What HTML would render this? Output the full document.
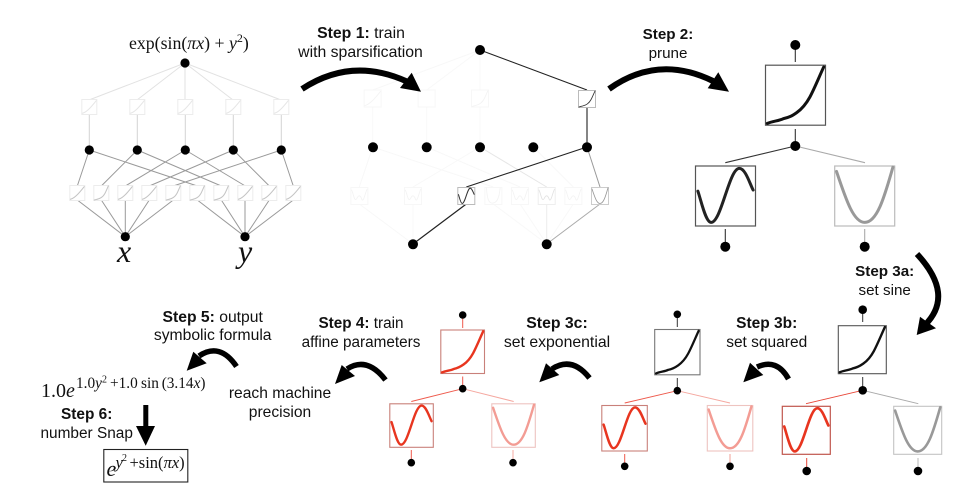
<!DOCTYPE html>
<html>
<head>
<meta charset="utf-8">
<style>
html,body{margin:0;padding:0;background:#fff;width:973px;height:487px;overflow:hidden}
svg{display:block}
.s{font-family:"Liberation Sans",sans-serif;font-size:15.4px;fill:#111;text-anchor:middle}
.m{font-family:"Liberation Serif",serif;fill:#111}
.i{font-style:italic}
.c{fill:none;stroke-linecap:round;stroke-linejoin:round}
</style>
</head>
<body>
<svg width="973" height="487" viewBox="0 0 973 487" xmlns="http://www.w3.org/2000/svg">
<defs>
<path id="ex" d="M3 97C12 93 22 93 30 89C40 87 45 84 52 79C62 72 68 64 74 53C82 38 90 18 97 3"/>
<path id="si" d="M4 42C10 60 17 94 26 94C43 94 56 4 73 4C83 4 90 28 96 40"/>
<path id="pa" d="M3 9C20 60 32 94 50 94C70 94 82 55 97 2"/>
<path id="li" d="M4 92C30 85 55 60 96 8"/>
<path id="wa" d="M4 15C15 30 20 90 35 65C45 45 55 40 65 70C75 90 85 30 96 10"/>
<path id="ba" d="M10 5C14 60 20 92 45 92C70 92 85 60 90 5"/>
</defs>

<!-- Panel 1 -->
<g fill="none" stroke="#e2e2e2" stroke-width="1">
<path d="M185 63L89 100M185 63L137 100M185 63V100M185 63L233 100M185 63L281 100"/>
</g>
<g fill="none" stroke="#d4d4d4" stroke-width="1">
<path d="M89.300 114V150M137.300 114V150M185.300 114V150M233.300 114V150M281.300 114V150"/>
</g>
<g fill="none" stroke="#9a9a9a" stroke-width="1">
<path d="M89.300 150L77.300 186M89.300 150L197.300 186M137.300 150L101.300 186M137.300 150L221.300 186M185.300 150L125.300 186M185.300 150L245.300 186M233.300 150L149.300 186M233.300 150L269.300 186M281.300 150L173.300 186M281.300 150L293.300 186"/>
<path d="M125.300 236.700L77.300 200M125.300 236.700L101.300 200M125.300 236.700V200M125.300 236.700L149.300 200M125.300 236.700L173.300 200"/>
<path d="M245 236.700L197.300 200M245 236.700L221.300 200M245 236.700V200M245 236.700L269.300 200M245 236.700L293.300 200"/>
</g>
<g fill="#fff" stroke="#ececec" stroke-width="1">
<rect x="81.800" y="99.500" width="15" height="15"/><rect x="129.800" y="99.500" width="15" height="15"/><rect x="177.800" y="99.500" width="15" height="15"/><rect x="225.800" y="99.500" width="15" height="15"/><rect x="273.800" y="99.500" width="15" height="15"/>
<rect x="69.800" y="185.500" width="15" height="15"/><rect x="93.800" y="185.500" width="15" height="15"/><rect x="117.800" y="185.500" width="15" height="15"/><rect x="141.800" y="185.500" width="15" height="15"/><rect x="165.800" y="185.500" width="15" height="15"/><rect x="189.800" y="185.500" width="15" height="15"/><rect x="213.800" y="185.500" width="15" height="15"/><rect x="237.800" y="185.500" width="15" height="15"/><rect x="261.800" y="185.500" width="15" height="15"/><rect x="285.800" y="185.500" width="15" height="15"/>
</g>
<g class="c" stroke="#e6e6e6" stroke-width="7">
<use href="#li" transform="translate(81.800 99.500) scale(.15)"/><use href="#li" transform="translate(129.800 99.500) scale(.15)"/><use href="#li" transform="translate(177.800 99.500) scale(.15)"/><use href="#li" transform="translate(225.800 99.500) scale(.15)"/><use href="#li" transform="translate(273.800 99.500) scale(.15)"/>
</g>
<g class="c" stroke="#c4c4c4" stroke-width="7">
<use href="#li" transform="translate(69.800 185.500) scale(.15)"/><use href="#ex" transform="translate(93.800 185.500) scale(.15)"/><use href="#li" transform="translate(117.800 185.500) scale(.15)"/><use href="#li" transform="translate(141.800 185.500) scale(.15)"/><use href="#ex" transform="translate(165.800 185.500) scale(.15)"/><use href="#ex" transform="translate(189.800 185.500) scale(.15)"/><use href="#ex" transform="translate(213.800 185.500) scale(.15)"/><use href="#li" transform="translate(237.800 185.500) scale(.15)"/><use href="#li" transform="translate(261.800 185.500) scale(.15)"/><use href="#li" transform="translate(285.800 185.500) scale(.15)"/>
</g>
<g fill="#000">
<circle cx="185" cy="63" r="4.600"/>
<circle cx="89.300" cy="150" r="4.600"/><circle cx="137.300" cy="150" r="4.600"/><circle cx="185.300" cy="150" r="4.600"/><circle cx="233.300" cy="150" r="4.600"/><circle cx="281.300" cy="150" r="4.600"/>
<circle cx="125.300" cy="236.700" r="4.600"/><circle cx="245" cy="236.700" r="4.600"/>
</g>
<text class="m" x="129" y="49" font-size="17.800">exp(sin(<tspan class="i">πx</tspan>) + <tspan class="i">y</tspan><tspan dy="-7" font-size="12">2</tspan><tspan dy="7">)</tspan></text>
<text class="m i" x="117" y="262" font-size="32">x</text>
<text class="m i" x="238" y="262" font-size="32">y</text>

<!-- Panel 2 -->
<g fill="none" stroke="#f8f8f8" stroke-width="1">
<path d="M480 50L372.700 90M480 50L426.700 90M480 50V90M372.700 107V147M426.700 107V147M480 107V147"/>
<path d="M372.700 147L359.300 187M372.700 147L493.300 187M426.700 147L520 187M480 147L413 187M533.300 147L573.300 187"/>
<path d="M413 244L359.300 204M413 244V204M546.700 244L493.300 204M546.700 244L520 204M546.700 244L573.300 204"/>
</g>
<path d="M480 147L546.700 187" fill="none" stroke="#e6e6e6"/>
<path d="M546.700 244V204" fill="none" stroke="#ececec"/>
<path d="M480 50L587 90" fill="none" stroke="#222" stroke-width="1.100"/>
<path d="M587 107V147" fill="none" stroke="#333" stroke-width="1.200"/>
<path d="M587 147L466.300 187" fill="none" stroke="#222" stroke-width="1.100"/>
<path d="M587 147L600 187" fill="none" stroke="#999"/>
<path d="M413 244L466.300 204" fill="none" stroke="#222" stroke-width="1.200"/>
<path d="M546.700 244L600 204" fill="none" stroke="#aaa"/>
<g fill="#fff" stroke="#f7f7f7">
<rect x="350.800" y="187.500" width="17" height="17"/><rect x="404.500" y="187.500" width="17" height="17"/><rect x="484.800" y="187.500" width="17" height="17"/><rect x="511.500" y="187.500" width="17" height="17"/><rect x="538.200" y="187.500" width="17" height="17" stroke="#eeeeee"/><rect x="564.800" y="187.500" width="17" height="17"/>
<rect x="364.200" y="90" width="17" height="17"/><rect x="418.200" y="90" width="17" height="17"/><rect x="471.500" y="90" width="17" height="17"/>
</g>
<g class="c" stroke="#f3f3f3" stroke-width="5">
<use href="#wa" transform="translate(350.800 187.500) scale(.17)"/><use href="#wa" transform="translate(404.500 187.500) scale(.17)"/><use href="#ba" transform="translate(484.800 187.500) scale(.17)"/><use href="#wa" transform="translate(511.500 187.500) scale(.17)"/><use href="#wa" transform="translate(538.200 187.500) scale(.17)" stroke="#e2e2e2"/><use href="#wa" transform="translate(564.800 187.500) scale(.17)"/><use href="#ex" transform="translate(471.500 90) scale(.17)"/><use href="#li" transform="translate(364.200 90) scale(.17)"/>
</g>
<rect x="578.500" y="90.500" width="17" height="17" fill="#fff" stroke="#bbb"/>
<use href="#ex" class="c" stroke="#333" stroke-width="5" transform="translate(578.500 90.500) scale(.17)"/>
<rect x="457.800" y="187.500" width="17" height="17" fill="#fff" stroke="#bbb"/>
<use href="#si" class="c" stroke="#333" stroke-width="6" transform="translate(457.800 187.500) scale(.17)"/>
<rect x="591.500" y="187.500" width="17" height="17" fill="#fff" stroke="#ccc"/>
<use href="#pa" class="c" stroke="#999" stroke-width="5" transform="translate(591.500 187.500) scale(.17)"/>
<g fill="#000">
<circle cx="480" cy="50" r="5"/>
<circle cx="373" cy="147.300" r="5"/><circle cx="426.700" cy="147.300" r="5"/><circle cx="480" cy="147.300" r="5"/><circle cx="533.300" cy="147.300" r="5"/><circle cx="587" cy="147.300" r="5"/>
<circle cx="413" cy="244.300" r="5"/><circle cx="546.700" cy="244.300" r="5"/>
</g>

<!-- Panel 3 -->
<path d="M795.300 45V62M795.300 129V146M795.300 146L725.300 162.700M725.300 229V246" fill="none" stroke="#333" stroke-width="1.100"/>
<path d="M795.300 146L865 162.700M864.700 229V246" fill="none" stroke="#aaa" stroke-width="1.100"/>
<rect x="765.500" y="65.200" width="60" height="60" fill="#fff" stroke="#555" stroke-width="1.200"/>
<rect x="695.500" y="166" width="60" height="60" fill="#fff" stroke="#555" stroke-width="1.200"/>
<rect x="834.700" y="166" width="60" height="60" fill="#fff" stroke="#bbb" stroke-width="1.200"/>
<use href="#ex" class="c" stroke="#111" stroke-width="5" transform="translate(765.500 65.200) scale(.6)"/>
<use href="#si" class="c" stroke="#222" stroke-width="5" transform="translate(695.500 166) scale(.6)"/>
<use href="#pa" class="c" stroke="#999" stroke-width="5" transform="translate(834.700 166) scale(.6)"/>
<circle cx="795.300" cy="45" r="5"/><circle cx="795.300" cy="146" r="5"/><circle cx="725.300" cy="246.700" r="5"/><circle cx="864.700" cy="246.700" r="5"/>

<!-- Panel 3a -->
<path d="M862.700 309.700V322M862.700 377V390.300" fill="none" stroke="#333"/>
<path d="M862.700 390.300L806 403.700M806.700 458V471" fill="none" stroke="#e8483a"/>
<path d="M862.700 390.300L918.300 403.700" fill="none" stroke="#aaa"/>
<path d="M918 458V471" fill="none" stroke="#ccc" stroke-width="1.400"/>
<rect x="838.300" y="325.700" width="48" height="48" fill="#fff" stroke="#555" stroke-width="1.100"/>
<rect x="782.300" y="406.300" width="48" height="48" fill="#fff" stroke="#c0564c" stroke-width="1.200"/>
<rect x="893.700" y="406.300" width="48" height="48" fill="#fff" stroke="#c4c4c4" stroke-width="1.100"/>
<use href="#ex" class="c" stroke="#111" stroke-width="5" transform="translate(838.300 325.700) scale(.48)"/>
<use href="#si" class="c" stroke="#e8351f" stroke-width="5.500" transform="translate(782.300 406.300) scale(.48)"/>
<use href="#pa" class="c" stroke="#999" stroke-width="5.500" transform="translate(893.700 406.300) scale(.48)"/>
<circle cx="862.700" cy="309.700" r="4.300"/><circle cx="862.700" cy="390.300" r="4.300"/><circle cx="806.700" cy="471" r="4.300"/><circle cx="918" cy="471" r="4.300"/>

<!-- Panel 3b -->
<path d="M677.300 314.300V327M677.300 378V390.700" fill="none" stroke="#333"/>
<path d="M677.300 390.700L624.700 403" fill="none" stroke="#ee5a4c"/>
<path d="M677.300 390.700L730 403" fill="none" stroke="#f5a8a0"/>
<path d="M624.700 454V466" fill="none" stroke="#ee5a4c"/>
<path d="M730 454V466" fill="none" stroke="#f5b5ae" stroke-width="1.300"/>
<rect x="654.700" y="329.500" width="45.300" height="45.300" fill="#fff" stroke="#777" stroke-width="1.100"/>
<rect x="601.800" y="405.500" width="45.500" height="45.500" fill="#fff" stroke="#c9807a" stroke-width="1.100"/>
<rect x="707.300" y="405.500" width="45.500" height="45.500" fill="#fff" stroke="#eec4c0" stroke-width="1.100"/>
<use href="#ex" class="c" stroke="#111" stroke-width="5" transform="translate(654.700 329.500) scale(.453)"/>
<use href="#si" class="c" stroke="#e8351f" stroke-width="5.500" transform="translate(601.800 405.500) scale(.455)"/>
<use href="#pa" class="c" stroke="#f39c94" stroke-width="5.500" transform="translate(707.300 405.500) scale(.455)"/>
<circle cx="677.300" cy="314.300" r="3.800"/><circle cx="677.300" cy="390.700" r="3.800"/><circle cx="624.700" cy="466.300" r="3.800"/><circle cx="730" cy="466.300" r="3.800"/>

<!-- Panel 3c -->
<path d="M462.700 315V328M462.700 376.500V388.700M462.700 388.700L411.300 401.500M411.300 450V462.700" fill="none" stroke="#ee5a4c"/>
<path d="M462.700 388.700L513.700 401.500M513 450V462.700" fill="none" stroke="#f5a8a0"/>
<rect x="440.800" y="330" width="43.700" height="43.500" fill="#fff" stroke="#c9807a" stroke-width="1.100"/>
<rect x="389.800" y="403.800" width="43.500" height="43.500" fill="#fff" stroke="#c9807a" stroke-width="1.100"/>
<rect x="491.800" y="403.800" width="43.500" height="43.500" fill="#fff" stroke="#eec4c0" stroke-width="1.100"/>
<use href="#ex" class="c" stroke="#e8351f" stroke-width="5.500" transform="translate(440.800 330) scale(.437)"/>
<use href="#si" class="c" stroke="#e8351f" stroke-width="5.500" transform="translate(389.800 403.800) scale(.435)"/>
<use href="#pa" class="c" stroke="#f39c94" stroke-width="5.500" transform="translate(491.800 403.800) scale(.435)"/>
<circle cx="462.700" cy="315" r="3.800"/><circle cx="462.700" cy="388.700" r="3.800"/><circle cx="411.300" cy="462.700" r="3.800"/><circle cx="513" cy="462.700" r="3.800"/>

<!-- Arrows -->
<g fill="none" stroke="#000" stroke-width="6">
<path d="M302 89Q352 56 408 82"/>
<path d="M609 89Q658 54 713 81"/>
<path d="M917 254Q955 295 925 325"/>
<path d="M788.500 379Q777 358 757 367" stroke-width="5.500"/>
<path d="M589.500 378Q572 356 552 369" stroke-width="5.500"/>
<path d="M385.500 380Q367 356 347 369" stroke-width="5.500"/>
<path d="M236.500 366.500Q220 342 199 356" stroke-width="5.500"/>
</g>
<g fill="#000">
<polygon points="421,91.700 411.700,72.700 400,88"/>
<polygon points="729,91.700 718.300,72.300 707.700,88.300"/>
<polygon points="916.700,335 936,328.300 920,316.700"/>
<polygon points="743.300,382.300 750,362.700 763.300,375"/>
<polygon points="539.300,382.300 546,363.300 559.300,375"/>
<polygon points="335,384 341.700,365 355,376"/>
<polygon points="186.700,370.700 193.300,351.700 206.700,363.300"/>
<polygon points="143.300,405 148.300,405 148.300,426 155,426 145.700,445.700 136,426 143.300,426"/>
</g>

<!-- Labels -->
<text class="s" x="361" y="38" style="font-size:15.800px"><tspan font-weight="bold">Step 1:</tspan> train</text>
<text class="s" x="360.500" y="57" style="font-size:15.800px">with sparsification</text>
<text class="s" x="668" y="39" style="font-size:15.200px"><tspan font-weight="bold">Step 2:</tspan></text>
<text class="s" x="668" y="58" style="font-size:15.200px">prune</text>
<text class="s" x="884.700" y="276" style="font-size:15.200px"><tspan font-weight="bold">Step 3a:</tspan></text>
<text class="s" x="884.700" y="295" style="font-size:15.200px">set sine</text>
<text class="s" x="766.700" y="328" style="font-size:15.500px"><tspan font-weight="bold">Step 3b:</tspan></text>
<text class="s" x="766.700" y="347" style="font-size:15.500px">set squared</text>
<text class="s" x="557" y="328" style="font-size:15.800px"><tspan font-weight="bold">Step 3c:</tspan></text>
<text class="s" x="557" y="347" style="font-size:15.800px">set exponential</text>
<text class="s" x="361" y="328" style="font-size:15.300px"><tspan font-weight="bold">Step 4:</tspan> train</text>
<text class="s" x="361" y="347" style="font-size:15.300px">affine parameters</text>
<text class="s" x="212.700" y="322" style="font-size:15.700px"><tspan font-weight="bold">Step 5:</tspan> output</text>
<text class="s" x="212.700" y="340" style="font-size:15.700px">symbolic formula</text>
<text class="s" x="280" y="398" style="font-size:15.600px">reach machine</text>
<text class="s" x="280" y="417" style="font-size:15.600px">precision</text>
<text class="s" x="86.700" y="419"><tspan font-weight="bold">Step 6:</tspan></text>
<text class="s" x="86.700" y="438">number Snap</text>

<!-- Formulas -->
<text class="m" x="41" y="397" font-size="20" fill="#333">1.0<tspan class="i">e</tspan></text>
<text class="m" x="76" y="388" font-size="15.300" fill="#333">1.0<tspan class="i">y</tspan></text>
<text class="m" x="102" y="382.700" font-size="10" fill="#333">2</text>
<text class="m" x="110" y="388" font-size="15.300" fill="#333">+1.0</text>
<text class="m" x="141" y="388" font-size="15.300" fill="#333">sin</text>
<text class="m" x="161.700" y="388" font-size="15.300" fill="#333">(3.14<tspan class="i">x</tspan>)</text>
<rect x="103.800" y="449.500" width="84" height="32.500" fill="#fff" stroke="#222" stroke-width="1.100"/>
<text class="m i" x="106.500" y="476" font-size="22">e</text>
<text class="m i" x="115.500" y="468" font-size="16.500">y</text>
<text class="m" x="122" y="461" font-size="10">2</text>
<text class="m" x="129.500" y="468" font-size="16.500">+sin(<tspan class="i">πx</tspan>)</text>
</svg>
</body>
</html>
